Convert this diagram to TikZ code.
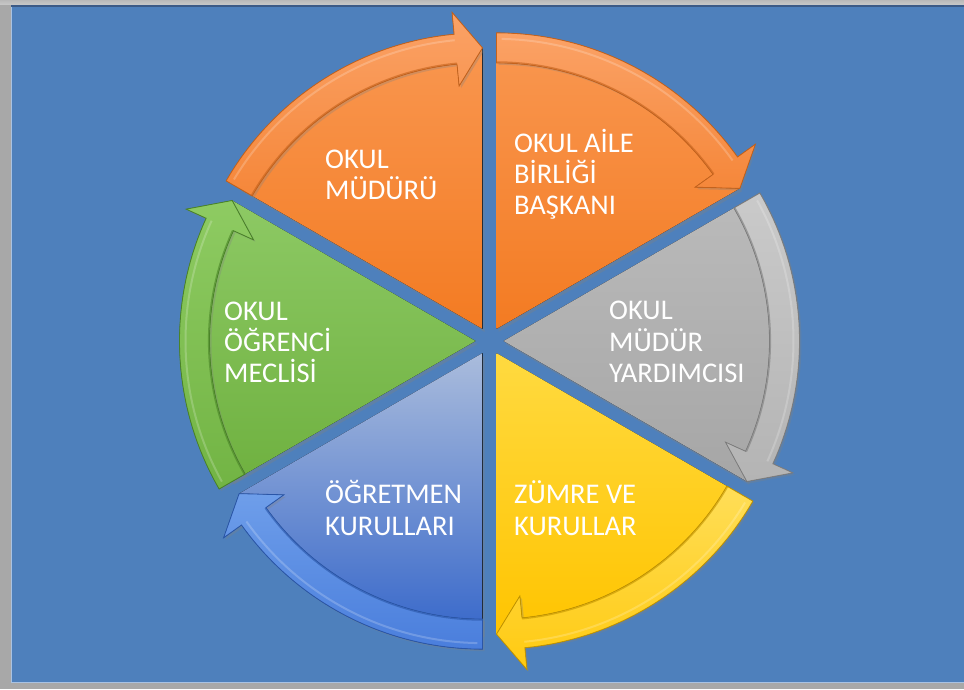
\documentclass[tikz,border=0pt]{standalone}
\usepackage{fontspec}
\setmainfont{Carlito}
\usetikzlibrary{shadows}
\definecolor{bgblue}{HTML}{4E80BC}
\definecolor{framegray}{HTML}{A8A8A8}
\definecolor{framedark}{HTML}{3C5A86}
\definecolor{frameline}{HTML}{A9C2E2}
% wedge top / bottom colours
\definecolor{oWa}{HTML}{F9964F}\definecolor{oWb}{HTML}{F37B22}
\definecolor{gWa}{HTML}{BABABA}\definecolor{gWb}{HTML}{A6A6A6}
\definecolor{yWa}{HTML}{FFDA40}\definecolor{yWb}{HTML}{FFC400}
\definecolor{bWa}{HTML}{AABCDC}\definecolor{bWb}{HTML}{3868CA}
\definecolor{grWa}{HTML}{8DC964}\definecolor{grWb}{HTML}{6FB140}
% band colours and edges
\definecolor{oBa}{HTML}{FBA266}\definecolor{oBb}{HTML}{F5873A}\definecolor{oE}{HTML}{C4621C}
\definecolor{gBa}{HTML}{CACACA}\definecolor{gBb}{HTML}{B4B4B4}\definecolor{gE}{HTML}{7E7E7E}
\definecolor{yBa}{HTML}{FFDE58}\definecolor{yBb}{HTML}{FFCA10}\definecolor{yE}{HTML}{C29400}
\definecolor{bBa}{HTML}{6E9EEA}\definecolor{bBb}{HTML}{4A7EDC}\definecolor{bE}{HTML}{2A56A8}
\definecolor{grBa}{HTML}{8ECB62}\definecolor{grBb}{HTML}{72B444}\definecolor{grE}{HTML}{4A8428}
\tikzset{
  wedgeshape/.style={drop shadow={shadow xshift=2pt,shadow yshift=-3pt,opacity=0.35}},
  bandshape/.style={line width=0.8pt,drop shadow={shadow xshift=2pt,shadow yshift=-2pt,opacity=0.3}},
  lbl/.style={text=white,font=\fontsize{28.5}{31}\selectfont,anchor=base west,inner sep=0pt},
}
\begin{document}
\begin{tikzpicture}[x=1pt,y=1pt]
\useasboundingbox (0,0) rectangle (964,689);
% frame
\fill[framegray] (0,0) rectangle (964,689);
\fill[top color=framegray!80,bottom color=framegray!120!black] (0,684) rectangle (964,689);
\fill[framedark] (11,682) rectangle (964,684);
\fill[bgblue] (11,6) rectangle (964,682);
\draw[frameline,line width=1pt] (11.5,6) -- (11.5,682);
\draw[frameline,line width=1pt] (11,6.5) -- (964,6.5);
% wedges
\foreach \s/\wa/\wb in {150/oWa/oWb, 90/oWa/oWb, 30/gWa/gWb, -30/yWa/yWb, -90/bWa/bWb, -150/grWa/grWb}{
  \pgfmathsetmacro\bis{\s-30}
  \pgfmathsetmacro\e{\s-60}
  \begin{scope}[shift={(489.5,348)},shift={(\bis:14)}]
    \fill[wedgeshape,top color=\wa,bottom color=\wb] (0,0) -- (\s:281) arc[start angle=\s,end angle=\e,radius=281] -- cycle;
  \end{scope}
}
% arrow bands
\foreach \s/\ba/\bb/\ed in {150/oBa/oBb/oE, 90/oBa/oBb/oE, 30/gBa/gBb/gE, -30/yBa/yBb/yE, -90/bBa/bBb/bE, -150/grBa/grBb/grE}{
  \pgfmathsetmacro\bis{\s-30}
  \pgfmathsetmacro\e{\s-60}
  \pgfmathsetmacro\h{\s-54.5}
  \begin{scope}[shift={(489.5,348)},shift={(\bis:14)}]
    \filldraw[bandshape,draw=\ed,top color=\ba,bottom color=\bb]
      (\s:296) arc[start angle=\s,end angle=\h,radius=296]
      -- (\h:318) -- (\e:281) -- (\h:244) -- (\h:266)
      arc[start angle=\h,end angle=\s,radius=266] -- cycle;
    \draw[white,opacity=0.2,line width=2pt] (\s-1:290) arc[start angle=\s-1,end angle=\h,radius=290];
    \draw[\ed,opacity=0.6,line width=1.2pt] (\s:267) arc[start angle=\s,end angle=\h,radius=267];
  \end{scope}
}
% labels
\node[lbl] (m1) at (325,520) {OKUL};
\node[lbl] (m2) at (325,489) {MÜDÜRÜ};
\node[lbl] (a1) at (514,536) {OKUL AİLE};
\node[lbl] (a2) at (514,505) {BİRLİĞİ};
\node[lbl] (a3) at (514,474) {BAŞKANI};
\node[lbl] (y1) at (609,369) {OKUL};
\node[lbl] (y2) at (609,337) {MÜDÜR};
\node[lbl] (y3) at (609,306) {YARDIMCISI};
\node[lbl] (g1) at (224,368) {OKUL};
\node[lbl] (g2) at (224,337) {ÖĞRENCİ};
\node[lbl] (g3) at (224,306) {MECLİSİ};
\node[lbl] (k1) at (325,186) {ÖĞRETMEN};
\node[lbl] (k2) at (325,154) {KURULLARI};
\node[lbl] (z1) at (514,186) {ZÜMRE VE};
\node[lbl] (z2) at (514,154) {KURULLAR};
\end{tikzpicture}
\end{document}
